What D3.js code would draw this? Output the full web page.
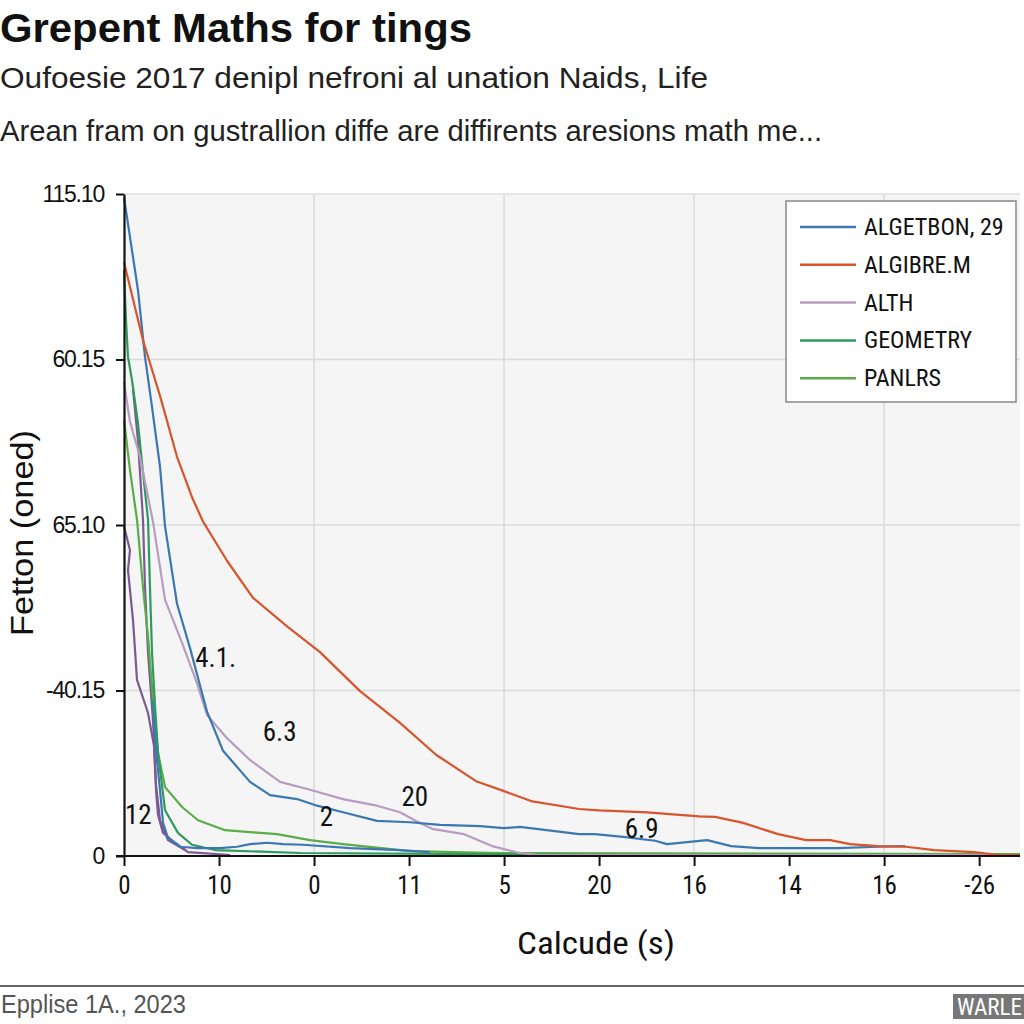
<!DOCTYPE html>
<html>
<head>
<meta charset="utf-8">
<script src="https://cdn.jsdelivr.net/npm/d3@7"></script>
<style>
  body { margin: 0; background: #fff; }
  svg { display: block; }
</style>
</head>
<body>
<div id="chart"></div>
<script>
// chart values
var xTickValues = [0, 10, 20, 30, 40, 50, 60, 70, 80, 90];
var xTickLabels = ["0", "10", "0", "11", "5", "20", "16", "14", "16", "-26"];
var yTickValues = [0, 25, 50, 75, 100];
var yTickLabels = ["0", "-40.15", "65.10", "60.15", "115.10"];

var algetbon = [[0,99.5],[1.47,85.5],[2.21,75.4],[2.95,67.8],[3.79,58.8],[4.32,49.8],[5.58,38.1],[6.95,31.4],[8.74,21.8],[10.42,15.9],[13.26,11.2],[15.37,9.2],[18.21,8.6],[20.32,7.6],[23.05,6.6],[26.63,5.3],[30.1,5.1],[33.26,4.7],[37.47,4.5],[40,4.2],[41.68,4.4],[47.89,3.3],[49.58,3.3],[52.53,2.9],[55.89,2.3],[57.16,1.8],[61.37,2.4],[63.89,1.5],[66.84,1.2],[70.95,1.2],[75.16,1.2],[79.37,1.4],[82.21,1.5]];
var algibre = [[0,89.7],[2,77.9],[3.79,69.5],[5.58,60.3],[7.16,54.2],[8.32,50.5],[10.84,44.6],[13.58,39],[17.16,34.7],[20.63,30.8],[24.84,24.9],[29.05,20.1],[32.84,15.3],[37.05,11.3],[40,9.8],[42.84,8.3],[47.89,7.1],[50,6.9],[55.05,6.6],[60.53,6],[62.21,5.9],[65.16,5],[68.84,3.3],[71.79,2.4],[74.32,2.4],[76.42,1.8],[79.37,1.5],[82.32,1.4],[85.26,0.9],[89.47,0.6],[92,0.15],[94.3,0.15]];
var alth = [[0,71.5],[0.63,65.6],[1.68,60.3],[3.05,50.5],[4.32,38.7],[6.11,32.2],[7.68,26.1],[8.74,21.3],[10.84,17.8],[13.26,14.5],[16.42,11.2],[19.58,10],[23.05,8.6],[26.63,7.6],[29.05,6.6],[30.74,5.3],[32.42,4.1],[35.79,3.3],[38.74,1.5],[41.68,0.45],[43.68,0.15],[94.3,0.15]];
var geometry = [[0,88.5],[0.21,81],[0.42,75.4],[0.84,71.9],[1.47,65.4],[2,57.9],[2.53,50.8],[2.74,40.2],[2.95,30.7],[3.26,22.8],[3.58,15.6],[4.32,6.9],[5.68,3.5],[7.16,1.7],[9.58,0.9],[18.53,0.45],[50.1,0.15],[94.3,0.15]];
var panlrs = [[0,65.9],[0.63,58.3],[1.37,50.8],[2,40.6],[2.53,33.1],[2.95,25.5],[3.58,15.6],[4.32,10.4],[6.11,7.4],[7.79,5.4],[10.63,3.9],[16.11,3.3],[19.58,2.4],[23.05,1.8],[30.1,0.75],[39.58,0.45],[94.3,0.3]];
// unlabelled lines in the picture
var purpleA = [[0,49.8],[0.63,46.2],[0.42,43.2],[0.95,35.6],[1.37,26.6],[2.53,21.6],[3.16,16.6],[3.37,10],[3.58,6.2],[4.11,3.5],[5.37,2],[6.74,0.6],[11.16,0.15]];
var purpleB = [[0.95,70.4],[1.47,62.8],[2,50.8],[2.21,40.6],[2.53,30.7],[3.05,20.5],[3.37,10.7],[3.79,5.4],[4.63,2.4],[6.42,0.9]];
var blueLow = [[2.95,23.6],[3.47,14.5],[3.79,10],[4.11,5],[4.63,2.7],[5.89,1.4],[7.68,1.2],[10.1,1.2],[11.89,1.4],[13.26,1.8],[15.05,2],[16.74,1.8],[18.84,1.7],[23.79,1.2],[29.05,0.9],[32.2,0.6]];

var legendNames = ["ALGETBON, 29", "ALGIBRE.M", "ALTH", "GEOMETRY", "PANLRS"];
var legendColors = ["#3b78b2", "#d8542d", "#b89cc2", "#2e9a5e", "#5aac48"];

var notes = ["4.1.", "6.3", "20", "2", "12", "6.9"];
var noteX = [7.5, 14.6, 29.2, 20.6, 0.1, 52.7];
var noteY = [28.5, 17.4, 7.6, 4.5, 4.8, 2.7];

var svgWidth = 1024;
var svgHeight = 1024;
var margin = { top: 194, right: 4, bottom: 168, left: 124 };
var width = svgWidth - margin.left - margin.right;
var height = svgHeight - margin.top - margin.bottom;

var narrow = "'Liberation Sans Narrow', 'Roboto Condensed', 'DejaVu Sans Condensed', sans-serif";
var sans = "'Liberation Sans', Arial, sans-serif";

function fit(sel, w) {
  return sel.attr("textLength", w).attr("lengthAdjust", "spacingAndGlyphs");
}

var svg = d3.select("#chart")
  .append("svg")
  .attr("width", svgWidth)
  .attr("height", svgHeight);

// titles
fit(svg.append("text").attr("x", 0).attr("y", 42)
  .attr("font-family", sans).attr("font-weight", "bold").attr("font-size", 41)
  .attr("fill", "#111").text("Grepent Maths for tings"), 472);
fit(svg.append("text").attr("x", 0).attr("y", 88)
  .attr("font-family", sans).attr("font-size", 30)
  .attr("fill", "#222").text("Oufoesie 2017 denipl nefroni al unation Naids, Life"), 708);
fit(svg.append("text").attr("x", 0).attr("y", 141)
  .attr("font-family", sans).attr("font-size", 30)
  .attr("fill", "#222").text("Arean fram on gustrallion diffe are diffirents aresions math me..."), 822);

var chartGroup = svg.append("g")
  .attr("transform", `translate(${margin.left}, ${margin.top})`);

var xScale = d3.scaleLinear().domain([0, 94.3]).range([0, width]);
var yScale = d3.scaleLinear().domain([0, 100]).range([height, 0]);

// plot background
chartGroup.append("rect")
  .attr("width", width).attr("height", height)
  .attr("fill", "#f4f5f4");
chartGroup.append("line")
  .attr("x1", 0).attr("x2", width).attr("y1", 0).attr("y2", 0)
  .attr("stroke", "#e0e0e0").attr("stroke-width", 1.5);

// grid
chartGroup.selectAll(".hgrid")
  .data(yTickValues.slice(1, 4))
  .enter().append("line")
  .attr("x1", 0).attr("x2", width)
  .attr("y1", d => yScale(d)).attr("y2", d => yScale(d))
  .attr("stroke", "#dadada").attr("stroke-width", 1.5);
chartGroup.selectAll(".vgrid")
  .data([20, 40, 60, 80])
  .enter().append("line")
  .attr("x1", d => xScale(d)).attr("x2", d => xScale(d))
  .attr("y1", 0).attr("y2", height)
  .attr("stroke", "#dadada").attr("stroke-width", 1.5);

// lines
var line = d3.line().x(d => xScale(d[0])).y(d => yScale(d[1]));
var series = [
  { data: purpleA, color: "#7d5a92" },
  { data: purpleB, color: "#7d5a92" },
  { data: panlrs, color: legendColors[4] },
  { data: geometry, color: legendColors[3] },
  { data: blueLow, color: legendColors[0] },
  { data: alth, color: legendColors[2] },
  { data: algetbon, color: legendColors[0] },
  { data: algibre, color: legendColors[1] }
];
chartGroup.selectAll(".series")
  .data(series)
  .enter().append("path")
  .attr("d", d => line(d.data))
  .attr("fill", "none")
  .attr("stroke", d => d.color)
  .attr("stroke-width", 2.2)
  .attr("stroke-linejoin", "round");

// annotations
chartGroup.selectAll(".note")
  .data(notes)
  .enter().append("text")
  .attr("x", (d, i) => xScale(noteX[i]))
  .attr("y", (d, i) => yScale(noteY[i]))
  .attr("font-family", narrow).attr("font-size", 27)
  .attr("fill", "#111")
  .text(d => d);

// axes
var bottomAxis = d3.axisBottom(xScale)
  .tickValues(xTickValues)
  .tickFormat((d, i) => xTickLabels[i])
  .tickSizeInner(10).tickSizeOuter(0).tickPadding(10);
var leftAxis = d3.axisLeft(yScale)
  .tickValues(yTickValues)
  .tickFormat((d, i) => yTickLabels[i])
  .tickSizeInner(8).tickSizeOuter(0).tickPadding(12);

var xAxis = chartGroup.append("g")
  .attr("transform", `translate(0, ${height})`)
  .call(bottomAxis);
var yAxis = chartGroup.append("g").call(leftAxis);

[xAxis, yAxis].forEach(function(ax) {
  ax.select(".domain").attr("stroke", "#111").attr("stroke-width", 2.2);
  ax.selectAll(".tick line").attr("stroke", "#111").attr("stroke-width", 2);
  ax.selectAll(".tick text")
    .attr("font-family", narrow).attr("font-size", 25).attr("fill", "#111");
});
xAxis.select(".domain").attr("d", `M-8,0H${width}`);
yAxis.selectAll(".tick text").attr("font-family", sans).attr("font-size", 23).attr("letter-spacing", -1.2);

// axis titles
fit(svg.append("text")
  .attr("transform", "translate(33, 533) rotate(-90)")
  .attr("text-anchor", "middle")
  .attr("font-family", sans).attr("font-size", 32).attr("fill", "#111")
  .text("Fetton (oned)"), 206);
fit(svg.append("text")
  .attr("x", 517).attr("y", 954)
  .attr("font-family", narrow).attr("font-size", 32).attr("fill", "#111")
  .text("Calcude (s)"), 158);

// legend
var legend = svg.append("g").attr("transform", "translate(786, 201)");
legend.append("rect")
  .attr("width", 230).attr("height", 201)
  .attr("fill", "#fff").attr("stroke", "#888").attr("stroke-width", 1.5);
var items = legend.selectAll(".item")
  .data(legendNames)
  .enter().append("g")
  .attr("transform", (d, i) => `translate(0, ${26 + i * 37.8})`);
items.append("line")
  .attr("x1", 14).attr("x2", 70)
  .attr("stroke", (d, i) => legendColors[i]).attr("stroke-width", 2.5);
items.append("text")
  .attr("x", 78).attr("y", 8)
  .attr("font-family", narrow).attr("font-size", 24).attr("fill", "#111")
  .text(d => d);

// footer
svg.append("line")
  .attr("x1", 0).attr("x2", svgWidth).attr("y1", 986).attr("y2", 986)
  .attr("stroke", "#666").attr("stroke-width", 2);
fit(svg.append("text")
  .attr("x", 1).attr("y", 1013)
  .attr("font-family", sans).attr("font-size", 25).attr("fill", "#555")
  .text("Epplise 1A., 2023"), 185);
svg.append("rect")
  .attr("x", 953).attr("y", 994).attr("width", 71).attr("height", 25)
  .attr("fill", "#777");
svg.append("text")
  .attr("x", 957).attr("y", 1015)
  .attr("font-family", narrow).attr("font-size", 23).attr("fill", "#fff")
  .text("WARLE");
</script>
</body>
</html>
